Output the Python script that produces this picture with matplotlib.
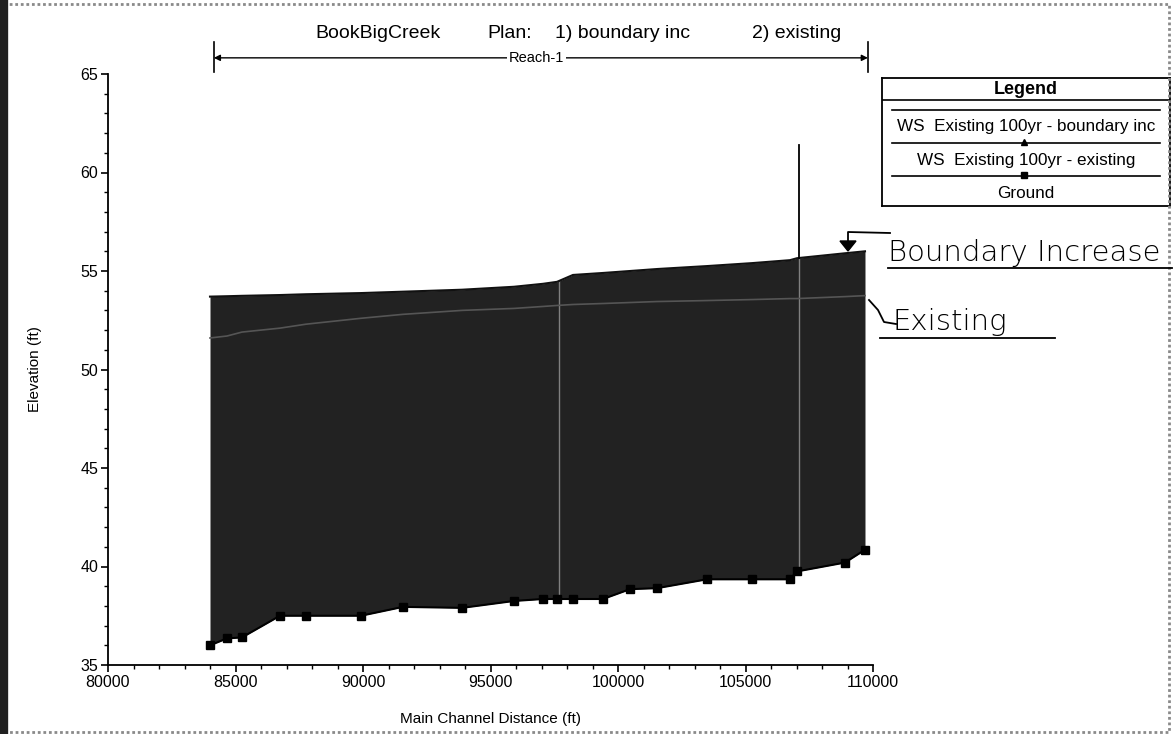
import matplotlib
matplotlib.use("Agg")
import matplotlib.pyplot as plt
from matplotlib.lines import Line2D
from matplotlib.patches import Rectangle, Polygon
import numpy as np

plt.rcParams['font.family'] = ['Liberation Sans', 'DejaVu Sans']

# river stations (ft) along main channel
station = [84000, 84667, 85255, 86745, 87765, 89922, 91569, 93882, 95922, 97059,
           97608, 98235, 99412, 100471, 101529, 103490, 105255, 106745, 107020,
           108902, 109686]
# ground (channel invert) elevation (ft)
ground = [36.0, 36.35, 36.4, 37.5, 37.5, 37.5, 37.95, 37.9, 38.25, 38.35,
          38.35, 38.35, 38.35, 38.85, 38.9, 39.35, 39.35, 39.35, 39.75,
          40.2, 40.85]
# WS Existing 100yr - boundary inc
ws_boundary = [53.7, 53.72, 53.74, 53.78, 53.82, 53.88, 53.95, 54.05, 54.2, 54.35,
               54.45, 54.8, 54.9, 55.0, 55.1, 55.25, 55.4, 55.55, 55.65,
               55.9, 56.0]
# WS Existing 100yr - existing
ws_existing = [51.6, 51.7, 51.9, 52.1, 52.3, 52.6, 52.8, 53.0, 53.1, 53.2,
               53.25, 53.3, 53.35, 53.4, 53.45, 53.5, 53.55, 53.6, 53.6,
               53.7, 53.75]

structure_stations = [97700, 107100]
reach_start, reach_end = 84150, 109800

legend_labels = ["WS  Existing 100yr - boundary inc",
                 "WS  Existing 100yr - existing",
                 "Ground"]

W, H = 1175, 734
fig = plt.figure(figsize=(W / 100, H / 100), dpi=100)
ax = fig.add_axes([108 / W, 1 - 665 / H, (873 - 108) / W, (665 - 74) / H])

# water fill between ground and water surface
ax.fill_between(station, ground, ws_boundary, color='#222222', lw=0, zorder=1)
ax.plot(station, ws_boundary, color='#111111', lw=1.5, zorder=3)
ax.plot(station, ws_existing, color='#555555', lw=1.2, zorder=3)
ax.plot(station, ground, color='black', lw=1.5, marker='s', ms=5.5, zorder=4)

# structure lines
ws_at = np.interp(structure_stations, station, ws_boundary)
gr_at = np.interp(structure_stations, station, ground)
for s, w, g in zip(structure_stations, ws_at, gr_at):
    ax.plot([s, s], [g, w], color='#808080', lw=1.0, zorder=2)
ax.plot([structure_stations[1], structure_stations[1]], [ws_at[1], 61.4],
        color='black', lw=1.3, zorder=3)

ax.set_xlim(80000, 110000)
ax.set_ylim(35, 65)
ax.set_xticks(np.arange(80000, 110001, 5000))
ax.set_xticks(np.arange(80000, 110001, 1000), minor=True)
ax.set_yticks(np.arange(35, 66, 5))
ax.set_yticks(np.arange(35, 66, 1), minor=True)
ax.tick_params(axis='both', which='major', direction='out', length=5, width=1.2,
               labelsize=11.5)
ax.tick_params(axis='both', which='minor', direction='out', length=3, width=1.0)
ax.tick_params(axis='x', pad=2)
ax.tick_params(axis='y', pad=2)
for sp in ['top', 'right']:
    ax.spines[sp].set_visible(False)
for sp in ['left', 'bottom']:
    ax.spines[sp].set_linewidth(1.3)
ax.set_xlabel("Main Channel Distance (ft)", fontsize=11, labelpad=16)
ax.set_ylabel("Elevation (ft)", fontsize=11, labelpad=28)

# reach marker above plot
ax.plot([reach_start, reach_start], [65.1, 66.6], color='black', lw=1.2, clip_on=False)
ax.plot([reach_end, reach_end], [65.1, 66.6], color='black', lw=1.2, clip_on=False)
ax.annotate("", xy=(reach_start, 65.82), xytext=(reach_end, 65.82),
            arrowprops=dict(arrowstyle='<|-|>', color='black', lw=1.0,
                            mutation_scale=9, shrinkA=0, shrinkB=0),
            annotation_clip=False)
ax.text(96800, 65.82, "Reach-1", ha='center', va='center', fontsize=10.5,
        bbox=dict(fc='white', ec='none', pad=1), clip_on=False)

# title pieces
ty = 1 - 33 / H
fig.text(315 / W, ty, "BookBigCreek", fontsize=14, va='center')
fig.text(487 / W, ty, "Plan:", fontsize=14, va='center')
fig.text(555 / W, ty, "1) boundary inc", fontsize=14, va='center')
fig.text(752 / W, ty, "2) existing", fontsize=14, va='center')

# legend box
lax = fig.add_axes([882 / W, 1 - 206 / H, 288 / W, 128 / H])
lax.set_xlim(882, 1170)
lax.set_ylim(206, 78)
lax.set_xticks([])
lax.set_yticks([])
for sp in lax.spines.values():
    sp.set_linewidth(1.3)
lax.axhline(100, color='black', lw=1.2)
lax.text(1026, 89, "Legend", ha='center', va='center', fontsize=13, fontweight='bold')
sample_y = [110, 143, 176]
text_y = [126, 160, 193]
markers = [None, '^', 's']
for yy, ty2, mk, lab in zip(sample_y, text_y, markers, legend_labels):
    lax.plot([892, 1160], [yy, yy], color='black', lw=1.2)
    if mk:
        lax.plot([1024], [yy - 1], marker=mk, color='black', ms=5)
    lax.text(1026, ty2, lab, ha='center', va='center', fontsize=12.3)

# handwritten annotations
hand = dict(color='black', lw=1.3, transform=fig.transFigure, clip_on=False)


def fx(px):
    return px / W


def fy(py):
    return 1 - py / H


fig.add_artist(Line2D([fx(890), fx(848), fx(848)], [fy(233), fy(232), fy(243)], **hand))
fig.add_artist(Polygon([[fx(840), fy(241)], [fx(856), fy(241)], [fx(848), fy(251)]],
                       closed=True, color='black', transform=fig.transFigure))
fig.text(fx(888), fy(253), "Boundary Increase", fontsize=21, fontweight='light',
         family=['DejaVu Sans'], va='center', ha='left')
fig.add_artist(Line2D([fx(888), fx(1172)], [fy(268), fy(268)], **hand))

fig.add_artist(Line2D([fx(869), fx(878), fx(884), fx(896)],
                      [fy(300), fy(310), fy(322), fy(324)], **hand))
fig.text(fx(893), fy(322), "Existing", fontsize=21, fontweight='light',
         family=['DejaVu Sans'], va='center', ha='left')
fig.add_artist(Line2D([fx(880), fx(1055)], [fy(338), fy(338)], **hand))

# scanned page border
fig.add_artist(Rectangle((0.003, 0.003), 0.992, 0.992, fill=False, ec='#8a8a8a',
                         lw=2.0, ls=(0, (1, 1)), transform=fig.transFigure))
fig.add_artist(Line2D([0.003, 0.003], [0.0, 1.0], color='#202020', lw=6,
                      transform=fig.transFigure))

fig.savefig("out.png", dpi=100)
